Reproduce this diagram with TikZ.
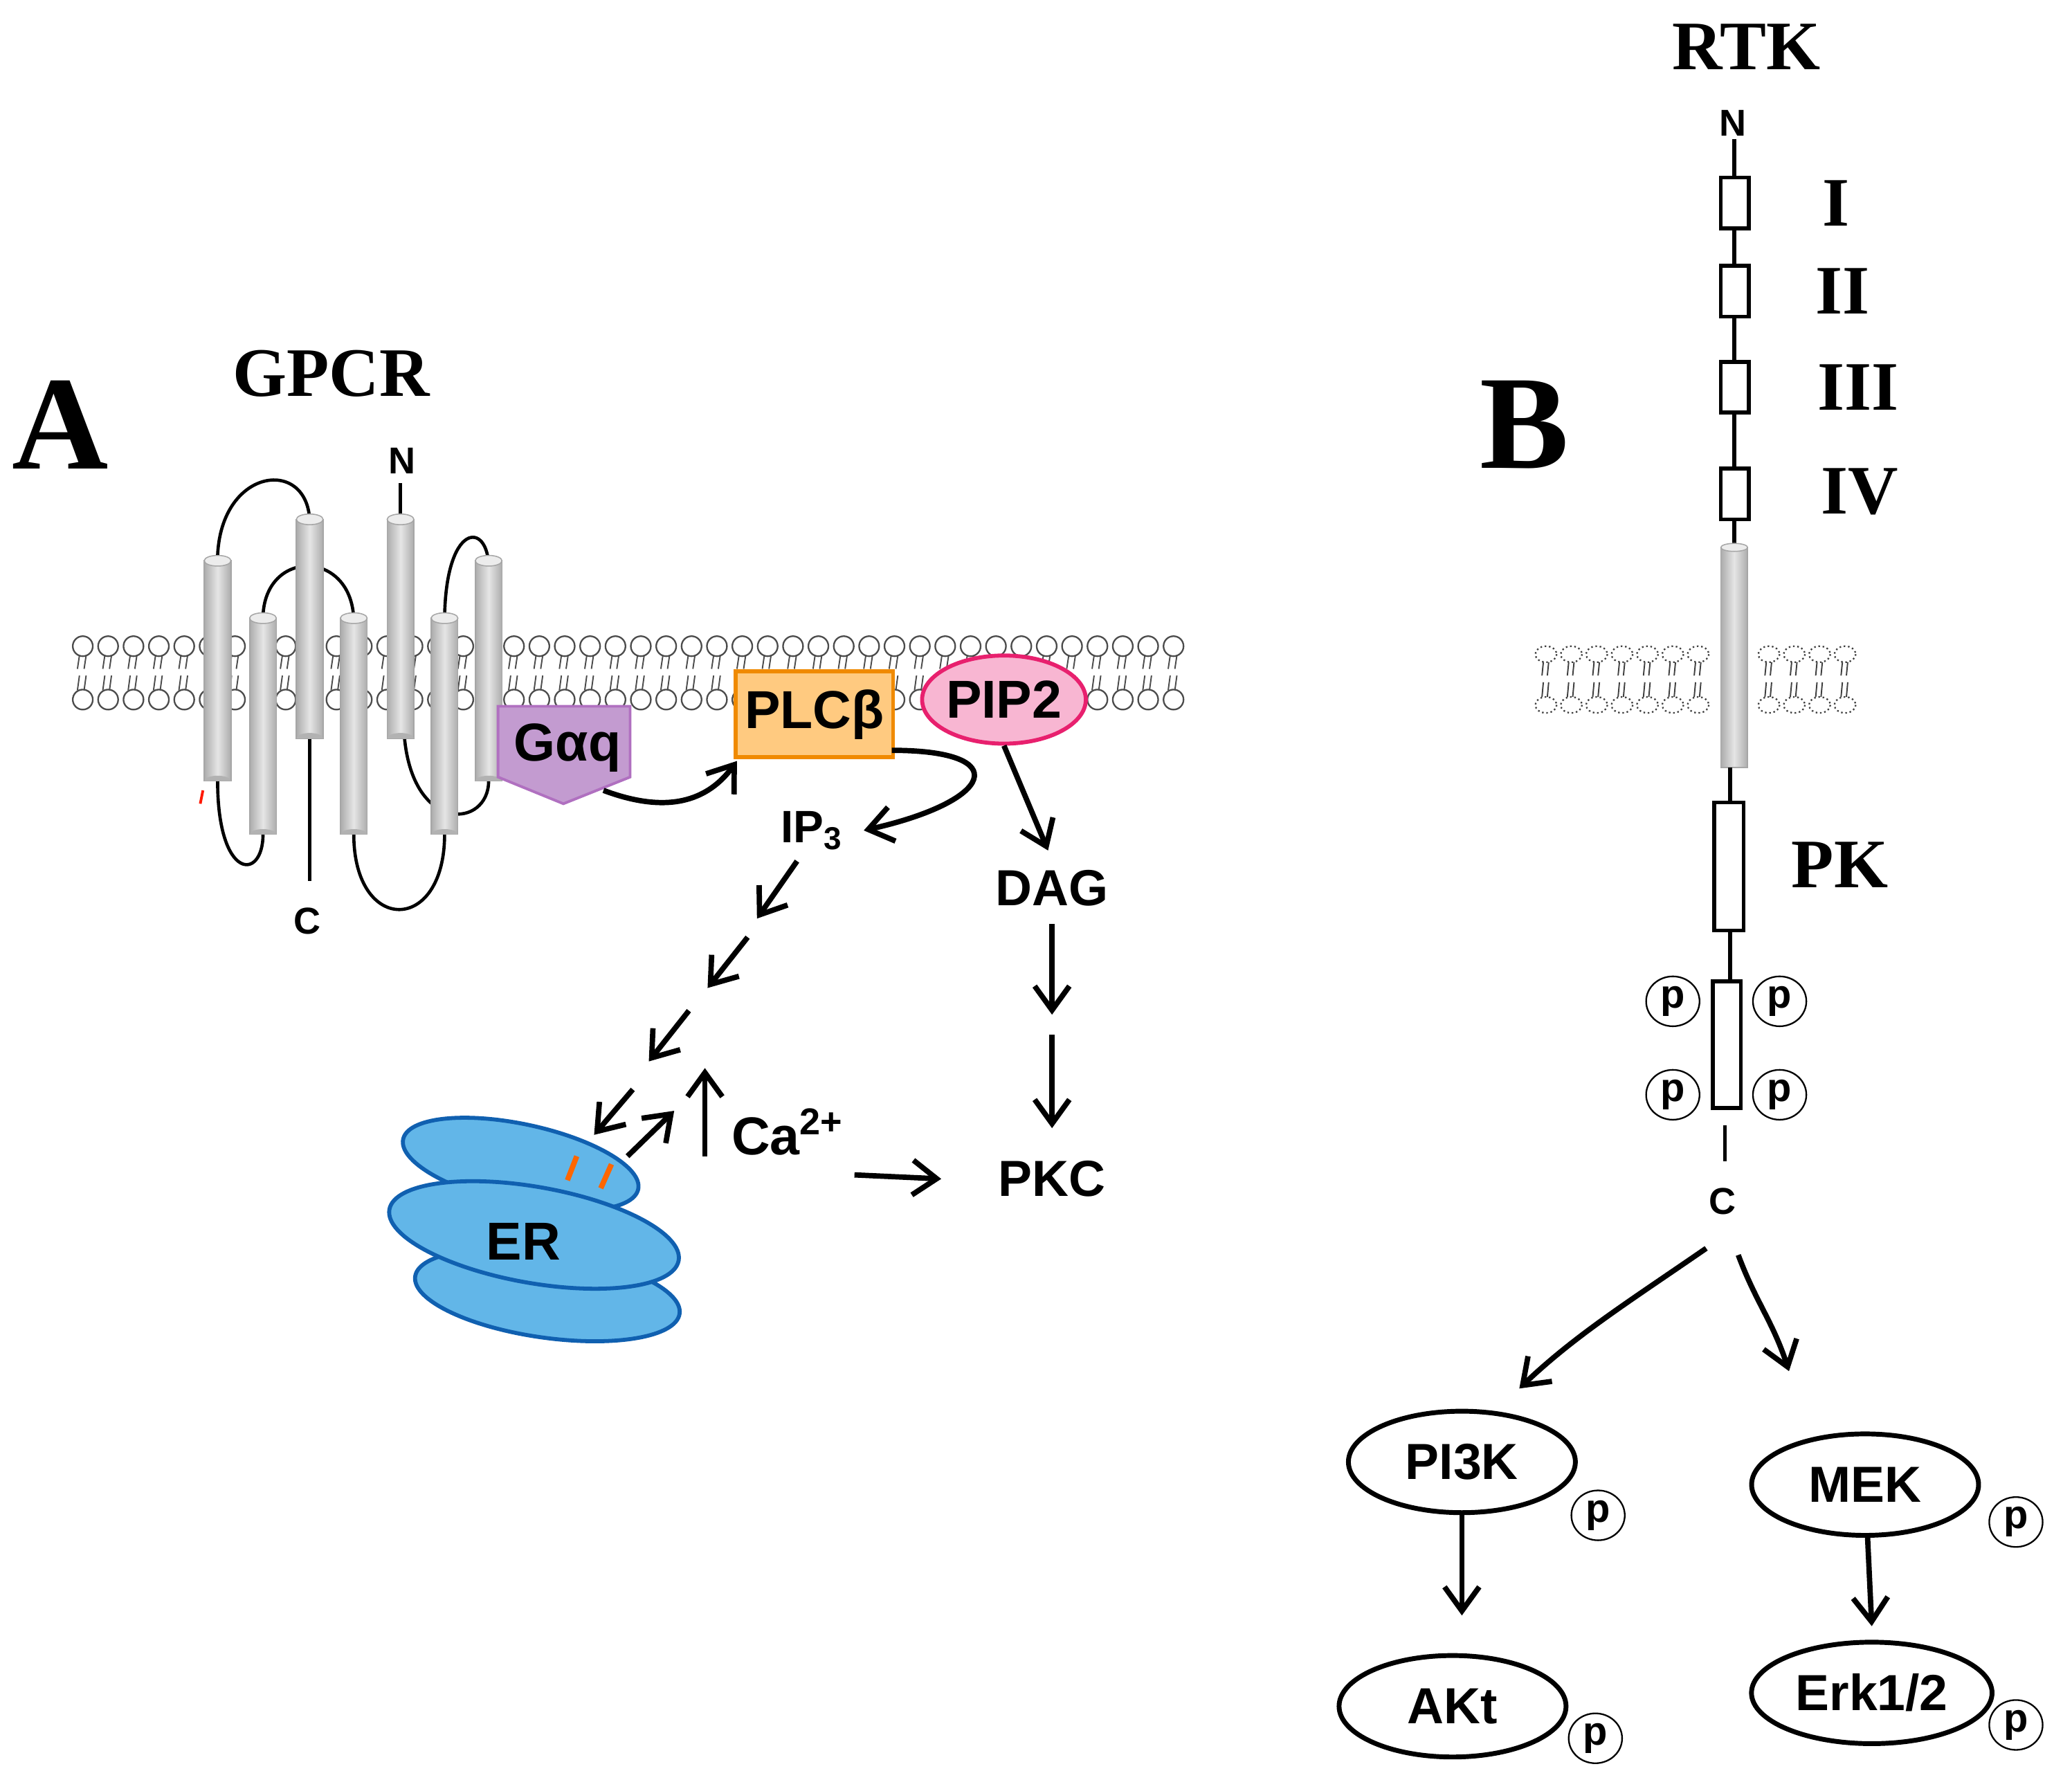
\documentclass[tikz,border=0pt]{standalone}
\usepackage{fontspec}
\setmainfont{Liberation Sans}
\setsansfont{Liberation Sans}
\newfontfamily\serifb{Liberation Serif}
\usetikzlibrary{arrows.meta,shapes.geometric}
\definecolor{gaq}{HTML}{C39BD0}\definecolor{gaqb}{HTML}{B070C0}
\definecolor{plc}{HTML}{FFCA80}\definecolor{plcb}{HTML}{F08A00}
\definecolor{pip}{HTML}{F8B6D2}\definecolor{pipb}{HTML}{E8206E}
\definecolor{er}{HTML}{62B6E8}\definecolor{erb}{HTML}{1060B0}
\begin{document}
\begin{tikzpicture}[x=0.5pt,y=-0.5pt,
  arr/.style={-{Straight Barb[length=9pt,width=13pt]},line width=2pt},
  sf/.style={font=\sffamily\bfseries\fontsize{19}{19}\selectfont},
  sfl/.style={font=\sffamily\bfseries\fontsize{20}{20}\selectfont},
  lbl/.style={font=\serifb\bfseries\fontsize{26}{26}\selectfont},
  helix/.style={left color=gray!65,right color=gray!65,middle color=gray!20,draw=gray!70,line width=0.4pt},
  pc/.style={ellipse,draw,line width=0.6pt,inner sep=1pt,minimum width=20pt,minimum height=17pt,font=\sffamily\bfseries\fontsize{15}{15}\selectfont},
  oval/.style={ellipse,draw,line width=1.8pt,minimum width=85pt,minimum height=38pt,font=\sffamily\bfseries\fontsize{19}{19}\selectfont},
  loop/.style={line width=1.2pt}]
\useasboundingbox (0,0) rectangle (1552,1333);
% ---------- Panel A ----------
\node[font=\serifb\bfseries\fontsize{50}{50}\selectfont] (A) at (45,318) {A};
\node[lbl] (gpcr) at (248,280) {GPCR};
\foreach \x in {62,81,...,880}{
  \draw[gray!60!black,line width=0.6pt] (\x,484) circle (7.5);
  \draw[gray!60!black,line width=0.6pt] (\x,524) circle (7.5);
  \draw[gray!60!black,line width=0.5pt] (\x-2.5,491)--(\x-4,501) (\x+2.5,491)--(\x+1,501) (\x-2.5,506)--(\x-4,517) (\x+2.5,506)--(\x+1,517);
}
\draw[loop] (163,425) .. controls (160,350) and (232,340) .. (232,392);
\draw[loop] (197,466) .. controls (195,410) and (265,410) .. (265,466);
\draw[loop] (333,466) .. controls (333,390) and (366,390) .. (366,425);
\draw[loop] (163,585) .. controls (163,660) and (197,660) .. (197,625);
\draw[loop] (265,625) .. controls (265,700) and (333,700) .. (333,625);
\draw[loop] (303,553) .. controls (310,625) and (366,620) .. (366,585);
\draw[loop] (232,553) -- (232,660);
\draw[loop] (300,392) -- (300,362);
\node[font=\sffamily\bfseries\fontsize{14}{14}\selectfont] (N) at (301,345) {N};
\node[font=\sffamily\bfseries\fontsize{14}{14}\selectfont] (C) at (230,690) {C};
\foreach \x/\t/\b in {163/420/585,197/463/625,232/389/553,265/463/625,300/389/553,333/463/625,366/420/585}{
  \shade[helix] (\x-10,\t) rectangle (\x+10,\b);
  \draw[gray!70,fill=gray!15,line width=0.4pt] (\x,\t) ellipse (10 and 4);
  \fill[gray!60] (\x-10,\b) arc (180:360:10 and 4);
}
\draw[red!80!orange,line width=1pt] (152,592)--(150,602);
\fill[gaq,draw=gaqb,line width=1pt] (373,529) -- (472,529) -- (472,582) -- (422,602) -- (373,582) -- cycle;
\node[sfl] (gaq) at (425,560) {Gαq};
\node[draw=plcb,fill=plc,line width=1.5pt,minimum width=59pt,minimum height=32pt,inner sep=0pt,sfl] (plc) at (610,535) {PLCβ};
\node[ellipse,draw=pipb,fill=pip,line width=1.5pt,minimum width=54pt,minimum height=33pt,inner sep=0pt,sfl] (pip) at (752,524) {PIP2};
\node[font=\sffamily\bfseries\fontsize{17}{17}\selectfont] (ip3) at (608,622) {IP\textsubscript{3}};
\node[sf] (dag) at (788,665) {DAG};
\node[sf] (pkc) at (788,883) {PKC};
\node[sfl] (ca) at (590,848) {Ca\textsuperscript{2+}};
\draw[arr] (452,592) .. controls (500,610) and (530,600) .. (552,570);
\draw[arr] (668,562) .. controls (760,562) and (745,600) .. (647,622);
\draw[arr] (pip.south) -- (785,637);
\draw[arr] (597,645) -- (567,688);
\draw[arr] (560,702) -- (530,740);
\draw[arr] (516,757) -- (486,795);
\draw[arr] (474,816) -- (445,850);
\draw[arr] (470,866) -- (505,832);
\draw[arr] (528,866) -- (528,800);
\draw[arr] (788,692) -- (788,760);
\draw[arr] (788,775) -- (788,845);
\draw[arr] (640,880) -- (705,883);
\draw[erb,fill=er,line width=1.5pt,rotate around={-12:(390,872)}] (390,872) ellipse (90 and 30);
\draw[erb,fill=er,line width=1.5pt,rotate around={-8:(410,970)}] (410,970) ellipse (100 and 32);
\draw[erb,fill=er,line width=1.5pt,rotate around={-10:(400,925)}] (400,925) ellipse (110 and 36);
\node[sfl] (ER) at (392,930) {ER};
\draw[orange!80!red,line width=2pt] (432,866)--(425,884) (458,872)--(450,890);
% ---------- Panel B ----------
\node[font=\serifb\bfseries\fontsize{50}{50}\selectfont] (B) at (1142,318) {B};
\node[lbl] (rtk) at (1308,35) {RTK};
\node[font=\sffamily\bfseries\fontsize{14}{14}\selectfont] (NB) at (1298,92) {N};
\draw[line width=1.4pt] (1299,104) -- (1299,410);
\foreach \y in {152,218,290,370}{
  \draw[line width=1.4pt,fill=white] (1289,\y-19) rectangle (1310,\y+19);
}
\node[lbl] (i1) at (1375,152) {I};
\node[lbl] (i2) at (1380,218) {II};
\node[lbl] (i3) at (1392,290) {III};
\node[lbl] (i4) at (1393,368) {IV};
\foreach \x in {1158,1177,...,1275,1325,1344,...,1400}{
  \draw[gray!50!black,line width=0.6pt,densely dotted] (\x,490) ellipse (8 and 6);
  \draw[gray!50!black,line width=0.6pt,densely dotted] (\x,528) ellipse (8 and 6);
  \draw[gray!50!black,line width=0.5pt] (\x-2,496)--(\x-3,506) (\x+2,496)--(\x+1,506) (\x-2,511)--(\x-3,522) (\x+2,511)--(\x+1,522);
}
\shade[helix] (1289,410) rectangle (1309,575);
\draw[gray!70,fill=gray!15,line width=0.4pt] (1299,410) ellipse (10 and 3);
\draw[line width=1.4pt] (1296,575) -- (1296,601);
\draw[line width=1.4pt,fill=white] (1284,601) rectangle (1306,697);
\node[lbl] (pk) at (1378,648) {PK};
\draw[line width=1.4pt] (1296,697) -- (1296,735);
\draw[line width=1.4pt,fill=white] (1283,735) rectangle (1304,830);
\node[pc] (p1) at (1253,750) {p};
\node[pc] (p2) at (1333,750) {p};
\node[pc] (p3) at (1253,820) {p};
\node[pc] (p4) at (1333,820) {p};
\draw[line width=1.4pt] (1292,843) -- (1292,870);
\node[font=\sffamily\bfseries\fontsize{14}{14}\selectfont] (CB) at (1290,900) {C};
\node[oval] (pi3k) at (1095,1095) {PI3K};
\node[oval] (akt) at (1088,1278) {AKt};
\node[oval] (mek) at (1397,1112) {MEK};
\node[oval] (erk) at (1402,1268) {Erk1/2};
\node[pc] (pp1) at (1197,1135) {p};
\node[pc] (pp2) at (1195,1302) {p};
\node[pc] (pp3) at (1510,1140) {p};
\node[pc] (pp4) at (1510,1292) {p};
\draw[arr] (1278,935) .. controls (1220,975) and (1180,1000) .. (1138,1040);
\draw[arr] (1302,940) .. controls (1315,975) and (1328,990) .. (1340,1027);
\draw[arr] (pi3k) -- (1095,1210);
\draw[arr] (mek) -- (1402,1218);
\end{tikzpicture}
\end{document}
